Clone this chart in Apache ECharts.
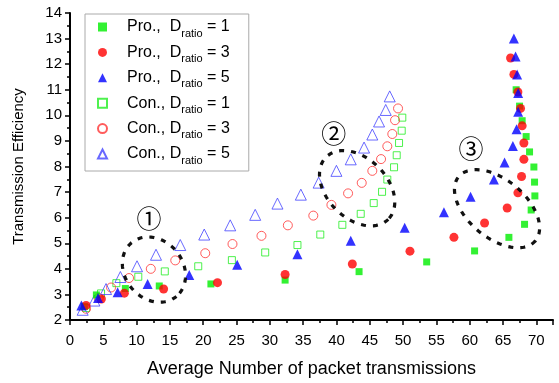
<!DOCTYPE html>
<html>
<head>
<meta charset="utf-8">
<script src="https://cdn.jsdelivr.net/npm/echarts@6/dist/echarts.min.js"></script>
<style>
  html, body { margin: 0; padding: 0; background: #fff; }
  #chart { width: 559px; height: 383px; }
</style>
</head>
<body>
<div id="chart"></div>
<script>
// [average packet transmissions, transmission efficiency]
var proD1 = [[2.16,2.53],[3.96,2.98],[8.31,3.23],[13.40,3.33],[21.15,3.41],[32.29,3.56],[43.39,3.89],[53.54,4.27],[60.73,4.70],[65.88,5.23],[68.23,5.74],[69.22,6.30],[69.78,6.85],[69.73,7.39],[69.63,7.98],[68.98,8.57],[68.47,9.17],[67.87,9.79],[67.48,10.36],[66.97,11.00]];
var proD3 = [[2.41,2.57],[4.71,2.82],[8.16,3.05],[14.05,3.21],[22.14,3.46],[32.29,3.78],[42.38,4.19],[51.03,4.69],[57.63,5.23],[62.23,5.79],[65.62,6.38],[67.23,6.97],[67.78,7.61],[68.13,8.28],[68.13,8.92],[67.87,9.59],[67.63,10.27],[67.23,10.91],[66.63,11.60],[66.13,12.24]];
var proD5 = [[1.71,2.57],[4.21,2.86],[7.15,3.08],[11.65,3.41],[17.90,3.76],[25.10,4.16],[34.14,4.57],[42.14,5.10],[50.24,5.61],[56.13,6.21],[60.13,6.82],[63.63,7.49],[65.23,8.16],[66.48,8.80],[67.03,9.46],[67.27,10.14],[67.27,10.87],[67.12,11.60],[66.88,12.30],[66.63,13.00]];
var conD1 = [[2.41,2.47],[4.66,3.04],[6.96,3.44],[10.25,3.69],[14.23,3.90],[19.25,4.10],[24.30,4.34],[29.30,4.64],[34.14,4.93],[37.57,5.34],[40.88,5.72],[43.64,6.15],[45.59,6.57],[46.84,7.01],[47.63,7.49],[48.64,7.97],[49.04,8.44],[49.39,8.92],[49.79,9.40],[49.88,9.91]];
var conD3 = [[2.41,2.44],[4.30,2.86],[6.16,3.27],[8.86,3.64],[12.13,4.00],[15.80,4.33],[20.30,4.61],[24.39,4.97],[28.74,5.29],[32.70,5.70],[36.52,6.08],[39.24,6.50],[41.74,6.95],[43.79,7.36],[45.38,7.83],[46.69,8.29],[47.63,8.79],[48.38,9.27],[48.79,9.81],[49.24,10.27]];
var conD5 = [[1.90,2.40],[3.66,2.76],[5.41,3.21],[7.56,3.68],[10.06,4.10],[12.91,4.55],[16.55,4.93],[20.15,5.34],[24.05,5.70],[27.80,6.11],[31.14,6.55],[34.65,6.90],[37.32,7.37],[39.99,7.83],[42.14,8.28],[44.14,8.74],[45.38,9.25],[46.39,9.76],[47.39,10.21],[47.99,10.74]];

var seriesNames = ['Pro. D1', 'Pro. D3', 'Pro. D5', 'Con. D1', 'Con. D3', 'Con. D5'];
var legendPrefix = ['Pro.,  D', 'Pro.,  D', 'Pro.,  D', 'Con., D', 'Con., D', 'Con., D'];
var ratios = [1, 3, 5, 1, 3, 5];

// annotations: circled labels and dashed loops (centre in data units)
var regionLabels = [['①', 11.86, 5.97], ['②', 39.6, 9.30], ['③', 60.2, 8.69]];
var regionLoops = [[12.6, 3.97], [43.1, 7.15], [64.1, 6.35]];

var chart = echarts.init(document.getElementById('chart'));

var loopShape = [
  { a: 35, b: 29, rot: 50 },
  { a: 44, b: 30, rot: 45 },
  { a: 50, b: 29, rot: 40 }
];

function scatter(name, data, symbol, size, color, hollow) {
  return {
    name: name,
    type: 'scatter',
    data: data,
    symbol: symbol,
    symbolSize: size,
    z: hollow ? 2 : 3,
    itemStyle: hollow
      ? { color: 'rgba(255,255,255,0)', borderColor: color, borderWidth: 1 }
      : { color: color },
    emphasis: { disabled: true }
  };
}

var option = {
  animation: false,
  backgroundColor: '#fff',
  grid: { left: 70, right: 6, top: 13, bottom: 57 },
  legend: {
    data: seriesNames,
    orient: 'vertical',
    left: 85,
    top: 14,
    itemWidth: 9,
    itemHeight: 9,
    itemGap: 1.4,
    padding: [1, 19, 5, 12],
    borderColor: '#aaa',
    borderWidth: 1,
    selectedMode: false,
    formatter: function (name) {
      var i = seriesNames.indexOf(name);
      return legendPrefix[i] + '{sub|ratio} = ' + ratios[i];
    },
    textStyle: {
      color: '#000',
      fontFamily: 'Arial, "Liberation Sans"',
      fontSize: 16,
      lineHeight: 24,
      padding: [0, 0, 0, 15],
      rich: {
        sub: { fontFamily: 'Arial, "Liberation Sans"', fontSize: 11, lineHeight: 11, verticalAlign: 'bottom', color: '#000' }
      }
    }
  },
  xAxis: {
    type: 'value',
    min: 0,
    max: 72.5,
    interval: 5,
    name: 'Average Number of packet transmissions',
    nameLocation: 'middle',
    nameGap: 40,
    nameTextStyle: { color: '#000', fontSize: 18, fontFamily: 'Arial, "Liberation Sans"' },
    axisLine: { lineStyle: { color: '#000', width: 2 } },
    axisTick: { length: 5, lineStyle: { color: '#000', width: 1.5 } },
    minorTick: { show: true, splitNumber: 2, length: 3, lineStyle: { color: '#000', width: 1.5 } },
    axisLabel: { color: '#000', fontSize: 15, margin: 13, showMaxLabel: false, fontFamily: 'Arial, "Liberation Sans"' },
    splitLine: { show: false }
  },
  yAxis: {
    type: 'value',
    min: 2,
    max: 14,
    interval: 1,
    name: 'Transmission Efficiency',
    nameLocation: 'middle',
    nameGap: 44,
    nameTextStyle: { color: '#000', fontSize: 15, fontFamily: 'Arial, "Liberation Sans"' },
    axisLine: { show: true, lineStyle: { color: '#000', width: 2 } },
    axisTick: { show: true, length: 5, lineStyle: { color: '#000', width: 1.5 } },
    minorTick: { show: true, splitNumber: 2, length: 3, lineStyle: { color: '#000', width: 1.5 } },
    axisLabel: { color: '#000', fontSize: 15, margin: 8, fontFamily: 'Arial, "Liberation Sans"' },
    splitLine: { show: false }
  },
  series: [
    scatter(seriesNames[0], proD1, 'rect', 7, '#00ee00', false),
    scatter(seriesNames[1], proD3, 'circle', 9, '#ff0000', false),
    scatter(seriesNames[2], proD5, 'triangle', 10, '#0000ff', false),
    scatter(seriesNames[3], conD1, 'rect', 7, '#22ee22', true),
    scatter(seriesNames[4], conD3, 'circle', 9, '#ff3333', true),
    scatter(seriesNames[5], conD5, 'triangle', 11, '#4444ff', true),
    {
      name: 'loops',
      type: 'custom',
      data: regionLoops,
      z: 4,
      silent: true,
      renderItem: function (params, api) {
        var c = api.coord([api.value(0), api.value(1)]);
        var s = loopShape[params.dataIndex];
        var th = s.rot * Math.PI / 180;
        var pts = [];
        for (var k = 0; k < 72; k++) {
          var t = k / 72 * Math.PI * 2;
          var ex = s.a * Math.cos(t), ey = s.b * Math.sin(t);
          pts.push([c[0] + ex * Math.cos(th) - ey * Math.sin(th),
                    c[1] + ex * Math.sin(th) + ey * Math.cos(th)]);
        }
        return {
          type: 'polygon',
          shape: { points: pts },
          style: { fill: 'none', stroke: '#111', lineWidth: 3.2, lineDash: [5, 7] }
        };
      }
    },
    {
      name: 'labels',
      type: 'custom',
      data: regionLabels,
      z: 4,
      silent: true,
      renderItem: function (params, api) {
        var c = api.coord([api.value(1), api.value(2)]);
        return {
          type: 'text',
          x: c[0],
          y: c[1],
          style: {
            text: regionLabels[params.dataIndex][0],
            fill: '#000',
            fontSize: 25,
            fontFamily: '"Noto Sans CJK SC", "DejaVu Sans"',
            align: 'center',
            verticalAlign: 'middle'
          }
        };
      }
    }
  ]
};

chart.setOption(option);
</script>
</body>
</html>
